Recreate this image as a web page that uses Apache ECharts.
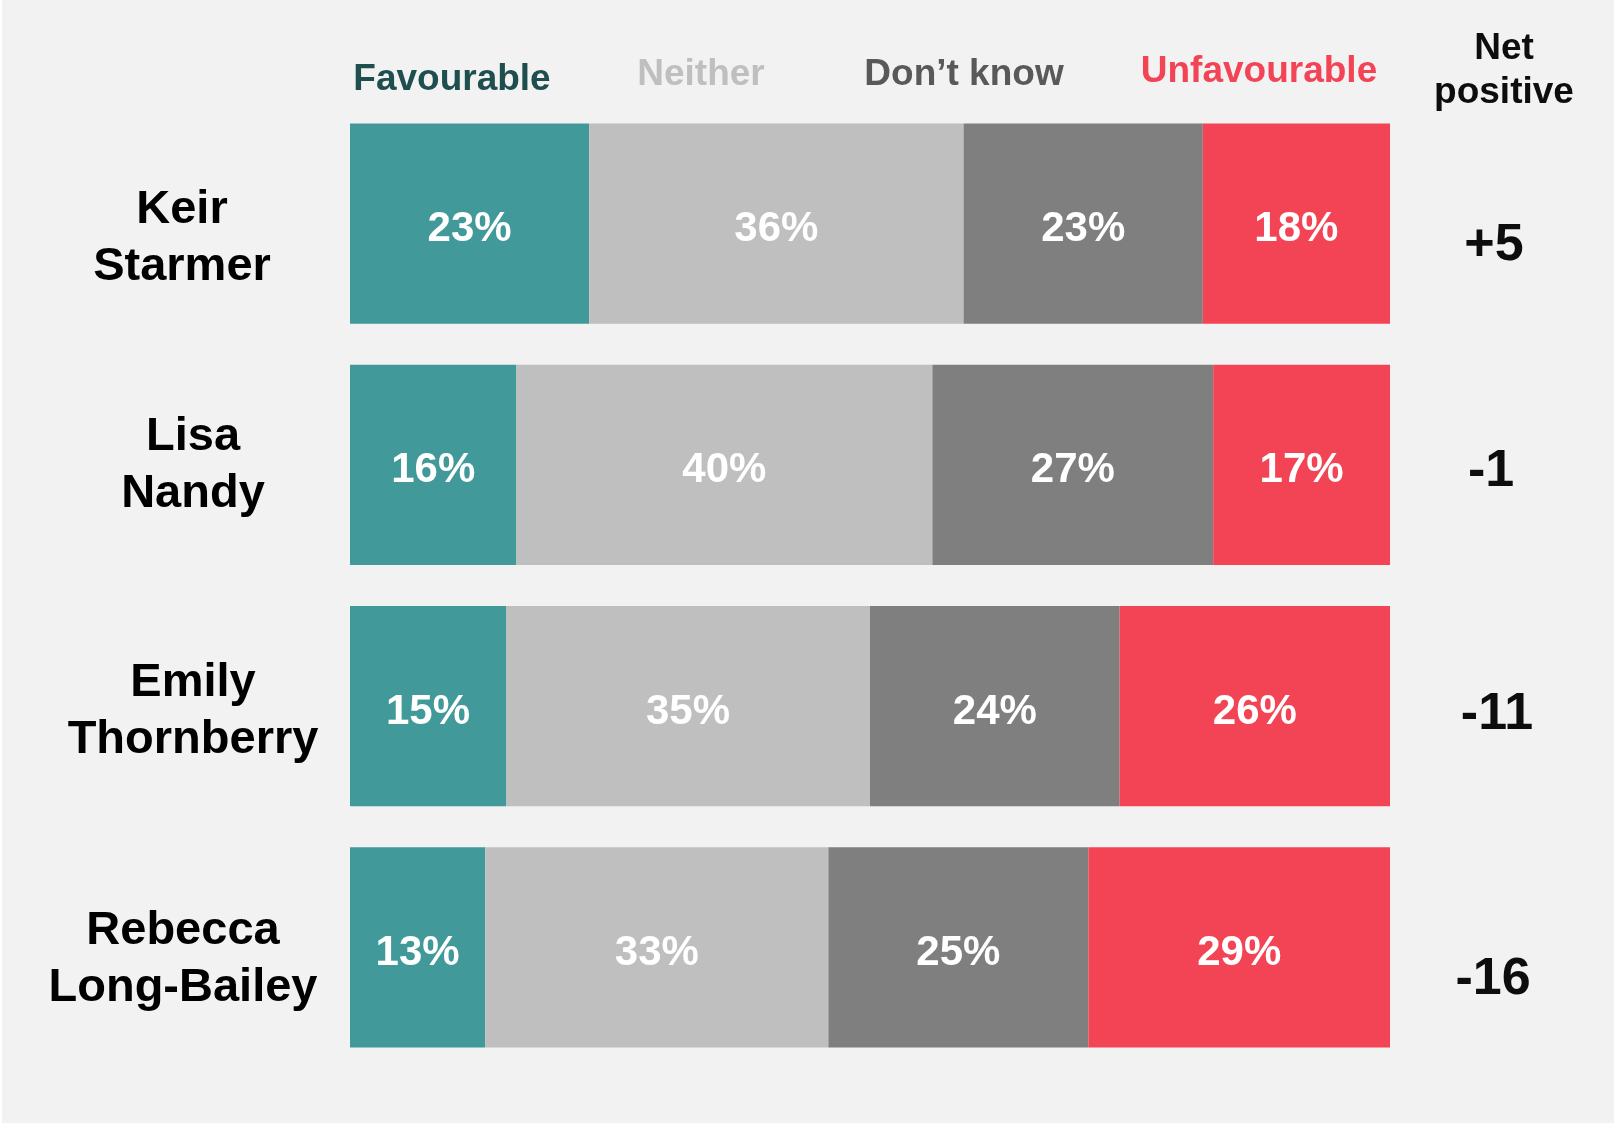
<!DOCTYPE html>
<html>
<head>
<meta charset="utf-8">
<script src="https://cdn.jsdelivr.net/npm/echarts@6/dist/echarts.min.js"></script>
<style>
  html, body { margin: 0; padding: 0; background: #fff; }
  #chart { position: absolute; left: 2px; top: 0; width: 1612px; height: 1123px; background: #f2f2f2; }
</style>
</head>
<body>
<div id="chart"></div>
<script>
// data
const categories = ['Keir Starmer', 'Lisa Nandy', 'Emily Thornberry', 'Rebecca Long-Bailey']
const seriesNames = ['Favourable', 'Neither', 'Don\u2019t know', 'Unfavourable']
const favourable = [23, 16, 15, 13]
const neither = [36, 40, 35, 33]
const dontKnow = [23, 27, 24, 25]
const unfavourable = [18, 17, 26, 29]
const netPositive = ['+5', '-1', '-11', '-16']

const FONT = '"Liberation Sans", Arial, sans-serif'
const barColors = ['#42999a', '#bfbfbf', '#7f7f7f', '#f24455']
const headColors = ['#1f4e4f', '#bfbfbf', '#595959', '#f24455']

// small per-label nudges [dx, dy] so the labels sit like in the original slide
const catNudge = [[-6, 15], [5, 1], [5, 5], [-5, 12]]
const netNudge = [[0, 22], [-3, 7], [3, 9], [-1, 32]]

// rich padding only moves the text (lineHeight is fixed), by half the padding
const nudgePad = (dx, dy) => [
  dy > 0 ? 2 * dy : 0,
  dx < 0 ? -2 * dx : 0,
  dy < 0 ? -2 * dy : 0,
  dx > 0 ? 2 * dx : 0
]

const catRich = {}
catNudge.forEach(([dx, dy], i) => {
  const base = { fontSize: 47, fontWeight: 'bold', fontFamily: FONT, color: '#000', lineHeight: 57 }
  catRich['t' + i] = { ...base, padding: nudgePad(dx, dy) }
  catRich['b' + i] = { ...base, padding: nudgePad(dx, dy) }
})

const netRich = {}
netNudge.forEach(([dx, dy], i) => {
  netRich['n' + i] = {
    fontSize: 52, fontWeight: 'bold', fontFamily: FONT, color: '#0d0d0d',
    lineHeight: 60,
    padding: nudgePad(dx, dy)
  }
})

const values = [favourable, neither, dontKnow, unfavourable]

const chart = echarts.init(document.getElementById('chart'))

const headerPos = [[450, 80], [699, 75], [962, 75], [1257, 72]]

chart.setOption({
  backgroundColor: '#f2f2f2',
  animation: false,
  grid: { left: 348, right: 224, top: 103, bottom: 55, outerBoundsMode: 'none' },
  xAxis: { type: 'value', min: 0, max: 100, show: false },
  yAxis: [
    {
      type: 'category',
      data: categories,
      inverse: true,
      axisLine: { show: false },
      axisTick: { show: false },
      splitLine: { show: false },
      axisLabel: {
        align: 'center',
        margin: 162,
        lineHeight: 57,
        formatter: (v, i) => {
          const parts = v.split(' ')
          return '{t' + i + '|' + parts[0] + '}\n{b' + i + '|' + parts.slice(1).join(' ') + '}'
        },
        rich: catRich
      }
    },
    {
      type: 'category',
      data: categories,
      inverse: true,
      position: 'right',
      axisLine: { show: false },
      axisTick: { show: false },
      splitLine: { show: false },
      axisLabel: {
        align: 'center',
        margin: 104,
        formatter: (v, i) => '{n' + i + '|' + netPositive[i] + '}',
        rich: netRich
      }
    }
  ],
  graphic: seriesNames.map((name, i) => ({
    type: 'text',
    x: headerPos[i][0],
    y: headerPos[i][1],
    style: {
      text: name,
      align: 'center',
      verticalAlign: 'middle',
      font: 'bold 37px ' + FONT,
      fill: headColors[i]
    }
  })).concat([{
    type: 'text',
    x: 1502,
    y: 71,
    style: {
      text: 'Net\npositive',
      align: 'center',
      verticalAlign: 'middle',
      font: 'bold 37px ' + FONT,
      lineHeight: 44,
      fill: '#0d0d0d'
    }
  }]),
  series: seriesNames.map((name, i) => ({
    name: name,
    type: 'bar',
    stack: 'total',
    barWidth: '83%',
    data: values[i],
    itemStyle: { color: barColors[i] },
    label: {
      show: true,
      position: 'inside',
      offset: [0, 6],
      formatter: '{c}%',
      color: '#fff',
      fontSize: 42,
      fontWeight: 'bold',
      fontFamily: FONT
    }
  }))
})
</script>
</body>
</html>
